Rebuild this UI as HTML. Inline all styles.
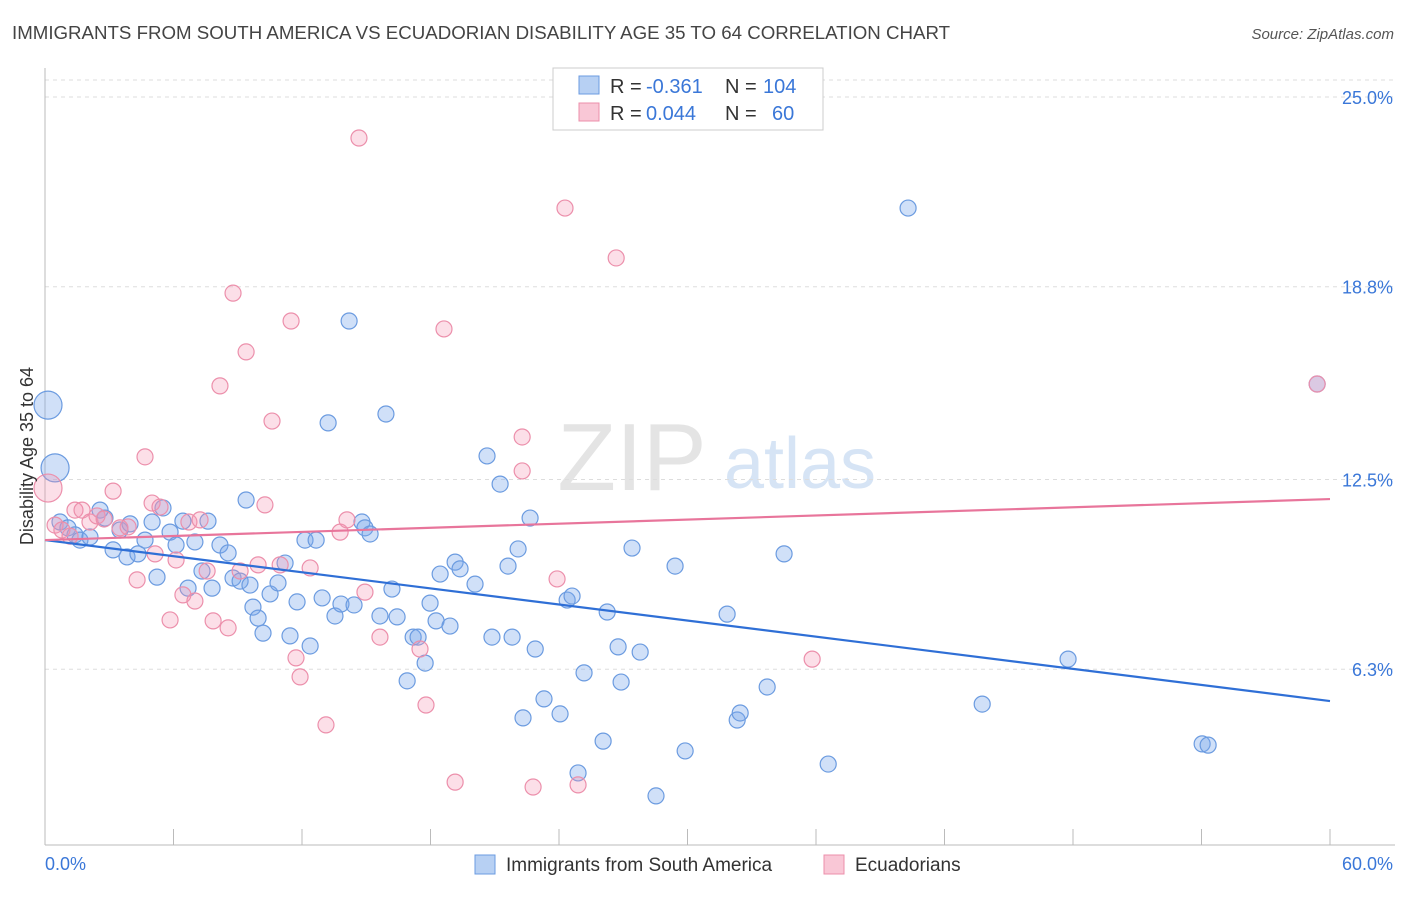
<!DOCTYPE html>
<html><head><meta charset="utf-8"><style>
body{margin:0;background:#fff;font-family:"Liberation Sans",sans-serif;}
svg text{font-family:"Liberation Sans",sans-serif;}
</style></head><body>
<svg id="chart" width="1406" height="892" xmlns="http://www.w3.org/2000/svg">
<text x="12" y="39" font-size="18.7" fill="#444">IMMIGRANTS FROM SOUTH AMERICA VS ECUADORIAN DISABILITY AGE 35 TO 64 CORRELATION CHART</text>
<text x="1394" y="39" font-size="15" fill="#555" font-style="italic" text-anchor="end">Source: ZipAtlas.com</text>
<g>
<text x="632" y="490" font-size="96" fill="#e4e4e4" font-family="Liberation Serif,serif" text-anchor="middle">ZIP</text>
<text x="800" y="488" font-size="72" fill="#d6e4f5" text-anchor="middle">atlas</text>
</g>
<g id="grid"></g>
<g id="axes"></g>
<g id="marks"></g>
<g>
<rect x="553" y="68" width="270" height="62" fill="#fff" stroke="#ccc"/>
<rect x="579" y="76" width="20" height="18" fill="#b7d0f3" stroke="#6b9be0"/>
<rect x="579" y="103" width="20" height="18" fill="#f9c7d6" stroke="#ec8fab"/>
<text x="610" y="93" font-size="20" fill="#333">R =</text>
<text x="646" y="93" font-size="20" fill="#3a77d8">-0.361</text>
<text x="725" y="93" font-size="20" fill="#333">N =</text>
<text x="763" y="93" font-size="20" fill="#3a77d8">104</text>
<text x="610" y="120" font-size="20" fill="#333">R =</text>
<text x="646" y="120" font-size="20" fill="#3a77d8">0.044</text>
<text x="725" y="120" font-size="20" fill="#333">N =</text>
<text x="772" y="120" font-size="20" fill="#3a77d8">60</text>
</g>
<g>
<rect x="475" y="855" width="20" height="19" fill="#b7d0f3" stroke="#6b9be0"/>
<text x="506" y="871" font-size="19" fill="#333">Immigrants from South America</text>
<rect x="824" y="855" width="20" height="19" fill="#f9c7d6" stroke="#ec8fab"/>
<text x="855" y="871" font-size="19" fill="#333">Ecuadorians</text>
</g>
<text transform="translate(33,456) rotate(-90)" font-size="18" fill="#333" text-anchor="middle">Disability Age 35 to 64</text>
</svg>
<script>
const blueX=[0.14,0.47,0.70,1.07,1.40,1.63,2.10,2.57,2.80,3.18,3.50,3.83,3.97,4.34,4.67,5.00,5.23,5.51,5.84,6.12,6.44,6.68,7.00,7.33,7.61,7.80,8.17,8.55,8.78,9.11,9.39,9.57,9.71,9.95,10.18,10.51,10.88,11.21,11.44,11.77,12.14,12.38,12.66,12.94,13.22,13.54,13.82,14.20,14.43,14.80,14.94,15.18,15.64,15.92,16.20,16.44,16.91,17.19,17.42,17.75,17.98,18.26,18.45,18.91,19.15,19.38,20.08,20.64,20.87,21.25,21.62,21.81,22.09,22.32,22.65,22.89,23.30,24.05,24.38,24.61,24.89,25.17,26.06,26.25,26.76,26.90,27.41,27.79,28.53,29.42,29.89,31.85,32.32,32.46,33.72,34.51,36.57,40.30,43.76,47.77,54.03,54.31,59.40];
const blueY=[14.93,12.88,11.11,10.92,10.69,10.52,10.62,11.50,11.24,10.20,10.85,9.97,11.05,10.07,10.52,11.11,9.31,11.57,10.78,10.36,11.14,8.95,10.46,9.51,11.14,8.95,10.36,10.10,9.28,9.18,11.83,9.05,8.33,7.97,7.48,8.76,9.12,9.77,7.39,8.50,10.52,7.06,10.52,8.63,14.35,8.04,8.43,17.68,8.40,11.11,10.92,10.72,8.04,14.64,8.92,8.01,5.92,7.35,7.35,6.50,8.46,7.88,9.41,7.71,9.80,9.58,9.08,13.27,7.35,12.35,9.67,7.35,10.23,4.71,11.24,6.96,5.33,4.84,8.56,8.69,2.91,6.18,3.95,8.17,7.03,5.88,10.26,6.86,2.16,9.67,3.63,8.10,4.64,4.87,5.72,10.07,3.20,21.37,5.16,6.63,3.86,3.82,15.62];
const pinkX=[0.14,0.47,0.79,1.17,1.40,1.73,2.10,2.43,2.76,3.18,3.50,3.88,4.30,4.67,5.00,5.14,5.37,5.84,6.12,6.44,6.72,7.00,7.24,7.57,7.85,8.17,8.55,8.78,9.11,9.39,9.95,10.27,10.60,10.98,11.49,11.72,11.91,12.38,13.12,13.78,14.10,14.66,14.94,15.64,17.51,17.79,18.63,19.15,22.28,22.28,22.79,23.91,24.28,24.89,26.67,35.82,59.40];
const pinkY=[12.22,11.01,10.85,10.65,11.50,11.50,11.11,11.31,11.21,12.12,10.92,10.95,9.22,13.24,11.73,10.07,11.60,7.91,9.87,8.73,11.11,8.53,11.18,9.51,7.88,15.56,7.65,18.59,9.51,16.67,9.71,11.67,14.41,9.71,17.68,6.67,6.05,9.61,4.48,10.78,11.18,23.66,8.82,7.35,6.96,5.13,17.42,2.61,13.89,12.78,2.45,9.25,21.37,2.52,19.74,6.63,15.62];
const blueBig=[0,1];const pinkBig=[0];
const blueTrend=[10.52,5.26];const pinkTrend=[10.52,11.86];
const yTicks=[25.0,18.8,12.5,6.3];const yTickLabels=["25.0%","18.8%","12.5%","6.3%"];
const xTicks=[0,6,12,18,24,30,36,42,48,54,60];
const NS="http://www.w3.org/2000/svg";
const X0=45,X1=1330,Y0=862,PY=30.6;
function sx(v){return X0+(X1-X0)*v/60;}
function sy(v){return Y0-v*PY;}
function mk(t,a,p){const e=document.createElementNS(NS,t);for(const k in a)e.setAttribute(k,a[k]);p.appendChild(e);return e;}
const grid=document.getElementById('grid'),axes=document.getElementById('axes'),marks=document.getElementById('marks');
const topLine=mk('line',{x1:45,x2:1395,y1:80,y2:80,stroke:'#ddd','stroke-dasharray':'4,4'},grid);


yTicks.forEach((t,i)=>{
 const g=mk('line',{x1:45,x2:1395,y1:sy(t),y2:sy(t),stroke:'#ddd','stroke-dasharray':'4,4'},grid);
 
 
 const l=mk('text',{x:1393,y:sy(t)+7,'font-size':18,fill:'#3a77d8','text-anchor':'end'},axes);
 l.textContent=yTickLabels[i];
 
 
});
const ya=mk('line',{x1:45,x2:45,y1:68,y2:845,stroke:'#bbb'},axes);


const xa=mk('line',{x1:45,x2:1395,y1:845,y2:845,stroke:'#bbb'},axes);


xTicks.forEach(t=>{
 const k=mk('line',{x1:sx(t),x2:sx(t),y1:829,y2:845,stroke:'#bbb'},axes);
 
 
});
const xl0=mk('text',{x:45,y:870,'font-size':18,fill:'#3a77d8'},axes);xl0.textContent='0.0%';


const xl1=mk('text',{x:1393,y:870,'font-size':18,fill:'#3a77d8','text-anchor':'end'},axes);xl1.textContent='60.0%';


function pts(xs,ys,big,fill,stroke,name){
 xs.forEach((x,i)=>{
  const c=mk('circle',{cx:sx(x),cy:sy(ys[i]),r:big.includes(i)?14:8,fill:fill,stroke:stroke,'stroke-width':1.2},marks);
  
  
 });
}
pts(blueX,blueY,blueBig,'rgba(120,165,235,0.35)','#6b9be0','immigrants-point');
pts(pinkX,pinkY,pinkBig,'rgba(245,150,180,0.3)','#ec8fab','ecuadorians-point');
const bt=mk('line',{x1:sx(0),x2:sx(60),y1:sy(blueTrend[0]),y2:sy(blueTrend[1]),stroke:'#2f6fd6','stroke-width':2.2},marks);


const pt=mk('line',{x1:sx(0),x2:sx(60),y1:sy(pinkTrend[0]),y2:sy(pinkTrend[1]),stroke:'#e8759b','stroke-width':2.2},marks);


</script>
</body></html>
